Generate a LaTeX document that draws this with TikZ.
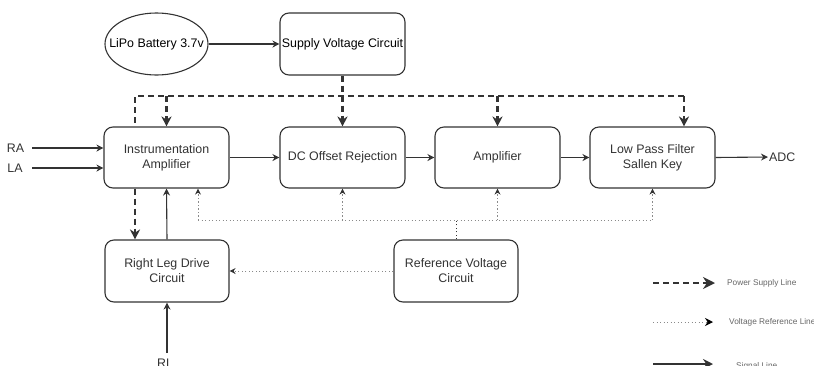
\documentclass[tikz,border=0pt]{standalone}
\usepackage{fontspec}
\setmainfont{Liberation Sans}
\usetikzlibrary{arrows.meta,shapes.geometric}
\definecolor{ink}{HTML}{333333}
\definecolor{refc}{HTML}{8A8A8A}
\definecolor{legc}{HTML}{666666}
\begin{document}
\begin{tikzpicture}[x=1pt,y=-1pt,
  blk/.style={draw=ink, rounded corners=9pt, line width=1.1pt, minimum width=125pt,
    minimum height=61pt, align=center, text=ink, fill=white, inner sep=0pt,
    font=\fontsize{12.4}{15}\selectfont},
  lbl/.style={text=ink, inner sep=1pt, font=\fontsize{12.4}{15}\selectfont},
  leg/.style={text=legc, inner sep=0pt, anchor=west, font=\fontsize{8.3}{10}\selectfont},
  sig/.style={draw=ink, line width=1.1pt, -{Stealth[length=7pt,width=7pt]}},
  pwline/.style={draw=ink, line width=2.4pt, dash pattern=on 6pt off 4pt},
  pw/.style={pwline, -{Stealth[length=10pt,width=10pt]}},
  refline/.style={draw=refc, line width=0.9pt, dash pattern=on 1.2pt off 2.3pt},
  refa/.style={refline, -{Stealth[length=6pt,width=6pt,color=ink]}}
]
\useasboundingbox (0,0) rectangle (814,365);

% nodes
\node[draw=ink, ellipse, line width=1.1pt, minimum width=103pt, minimum height=62pt,
  inner sep=0pt, font=\fontsize{12.4}{15}\selectfont] (bat) at (156.5,44)
  {\makebox[0pt]{LiPo Battery 3.7v}};
\node[blk, text=black, minimum height=62pt] (sup) at (342.5,44) {Supply Voltage Circuit};
\node[blk] (ia)  at (166.5,157.5) {Instrumentation\\Amplifier};
\node[blk] (dc)  at (342.5,157.5) {DC Offset Rejection};
\node[blk] (amp) at (497.5,157.5) {Amplifier};
\node[blk] (lpf) at (652.5,157.5) {Low Pass Filter\\Sallen Key};
\node[blk, minimum width=124pt, minimum height=62pt] (rld) at (167,271) {Right Leg Drive\\Circuit};
\node[blk, minimum width=124pt, minimum height=62pt] (ref) at (456,271) {Reference Voltage\\Circuit};

\node[lbl] (ra) at (15.5,148) {RA};
\node[lbl] (la) at (15,168) {LA};
\node[lbl, anchor=west] (adc) at (768,157) {ADC};
\node[lbl, anchor=north] (rl) at (165,358) {RL};
\coordinate (raS) at (32,148);
\coordinate (laS) at (32,168);
\coordinate (rlS) at (167,353);

% signal lines
\draw[sig] (bat.east) -- (sup.west);
\draw[sig] (raS) -- (raS -| ia.west);
\draw[sig] (laS) -- (laS -| ia.west);
\draw[sig] (ia.east) -- (dc.west);
\draw[sig] (dc.east) -- (amp.west);
\draw[sig] (amp.east) -- (lpf.west);
\draw[sig] (lpf.east) -- (adc.west);
\draw[sig] (rld.north) -- (ia.south);
\draw[sig] (rlS) -- (rld.south);

% power supply lines
\coordinate (pl) at (135,96);
\coordinate (pr) at (684,96);
\draw[pw] (sup.south) -- (dc.north);
\draw[pwline] (pr) -- (pl) -- (pl |- ia.north);
\draw[pw] (ia.north |- pl) -- (ia.north);
\draw[pw] (amp.north |- pl) -- (amp.north);
\draw[pw] (pr) -- (pr |- lpf.north);
\draw[pw] (pl |- ia.south) -- (pl |- rld.north);

% reference lines
\coordinate (rj) at (ref.north |- 0,220);
\coordinate (rlft) at (198,220);
\coordinate (rrgt) at (lpf.south |- rj);
\draw[refline, draw=ink] (ref.north) -- (rj);
\draw[refline] (rlft) -- (rrgt);
\draw[refa] (rlft) -- (rlft |- ia.south);
\draw[refa] (dc.south |- rj) -- (dc.south);
\draw[refa] (amp.south |- rj) -- (amp.south);
\draw[refa] (rrgt) -- (lpf.south);
\draw[refa] (ref.west) -- (rld.east);

% legend
\coordinate (l1a) at (653,283); \coordinate (l1b) at (715,283);
\coordinate (l2a) at (653,322); \coordinate (l2b) at (713,322);
\coordinate (l3a) at (653,364); \coordinate (l3b) at (713,364);
\draw[pwline, -{Stealth[length=12pt,width=12pt]}] (l1a) -- (l1b);
\draw[refa, -{Stealth[length=8pt,width=8pt,color=black]}] (l2a) -- (l2b);
\draw[draw=ink, line width=1.8pt, -{Stealth[length=10pt,width=10pt]}] (l3a) -- (l3b);
\node[leg] (t1) at (727,283) {Power Supply Line};
\node[leg] (t2) at (729,322) {Voltage Reference Line};
\node[leg] (t3) at (736,366) {Signal Line};
\end{tikzpicture}
\end{document}
